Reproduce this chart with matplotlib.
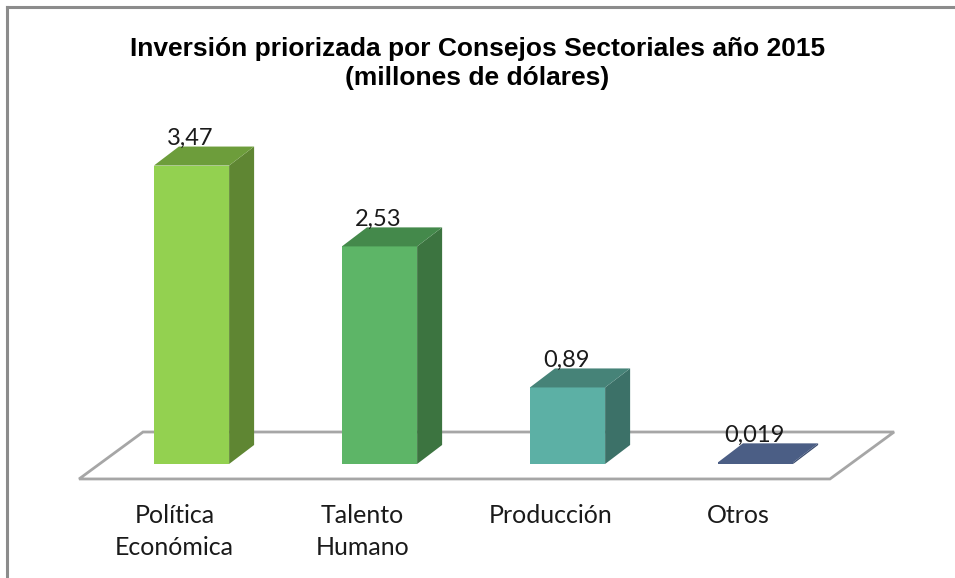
import matplotlib.pyplot as plt
from matplotlib.patches import Polygon
from matplotlib.lines import Line2D

# Datos del gráfico
categorias = ["Política\nEconómica", "Talento\nHumano", "Producción", "Otros"]
valores = [3.47, 2.53, 0.89, 0.019]
etiquetas = ["3,47", "2,53", "0,89", "0,019"]

# Colores de cada barra: frente, lado, tapa
col_frente = ["#93d150", "#5db567", "#5cb0a5", "#4b5e85"]
col_lado = ["#5f8633", "#3c7440", "#3c7168", "#3b4c6e"]
col_tapa = ["#6d9d3b", "#44894b", "#468378", "#4b5e85"]

fig = plt.figure(figsize=(9.55, 5.78), dpi=100)
ax = fig.add_axes([0, 0, 1, 1])
ax.set_xlim(-1.0186, 4.061)
ax.set_ylim(-1.3256, 5.395)
ax.axis("off")

ancho = 0.4      # ancho de barra (unidades de categoría)
dx, dy = 0.133, 0.221   # profundidad de la barra

# Piso en perspectiva
piso = Polygon([(-0.598, -0.174), (3.396, -0.174), (3.737, 0.372), (-0.258, 0.372)],
               closed=True, facecolor="white", edgecolor="#a6a6a6", linewidth=2, zorder=1)
ax.add_patch(piso)

for i, v in enumerate(valores):
    x0 = i - ancho / 2
    x1 = i + ancho / 2
    frente = Polygon([(x0, 0), (x1, 0), (x1, v), (x0, v)], closed=True,
                     facecolor=col_frente[i], edgecolor="none", zorder=3)
    lado = Polygon([(x1, 0), (x1 + dx, dy), (x1 + dx, v + dy), (x1, v)], closed=True,
                   facecolor=col_lado[i], edgecolor="none", zorder=2)
    tapa = Polygon([(x0, v), (x1, v), (x1 + dx, v + dy), (x0 + dx, v + dy)], closed=True,
                   facecolor=col_tapa[i], edgecolor="none", zorder=3)
    for p in (lado, frente, tapa):
        ax.add_patch(p)
    ax.text(i - 0.005, v + dy + 0.09, etiquetas[i], ha="center", va="center",
            fontsize=17, family="Lato", color="#1a1a1a", zorder=4)

# Etiquetas de categorías
for i, c in enumerate(categorias):
    ax.text(i - 0.09, -0.46, c, ha="center", va="top", fontsize=18,
            family="Lato", color="#1a1a1a", linespacing=1.5)

# Título
fig.text(0.5, 0.89, "Inversión priorizada por Consejos Sectoriales año 2015\n(millones de dólares)",
         ha="center", va="center", fontsize=19, fontweight="bold",
         family="Liberation Sans", linespacing=1.25)

# Borde del área del gráfico
fig.add_artist(Line2D([6.5 / 955, 6.5 / 955], [0, 1 - 6.5 / 578], color="#8c8c8c", linewidth=2.2))
fig.add_artist(Line2D([6.5 / 955, 1], [1 - 6.5 / 578, 1 - 6.5 / 578], color="#8c8c8c", linewidth=2.2))

fig.savefig("out.png", dpi=100)
